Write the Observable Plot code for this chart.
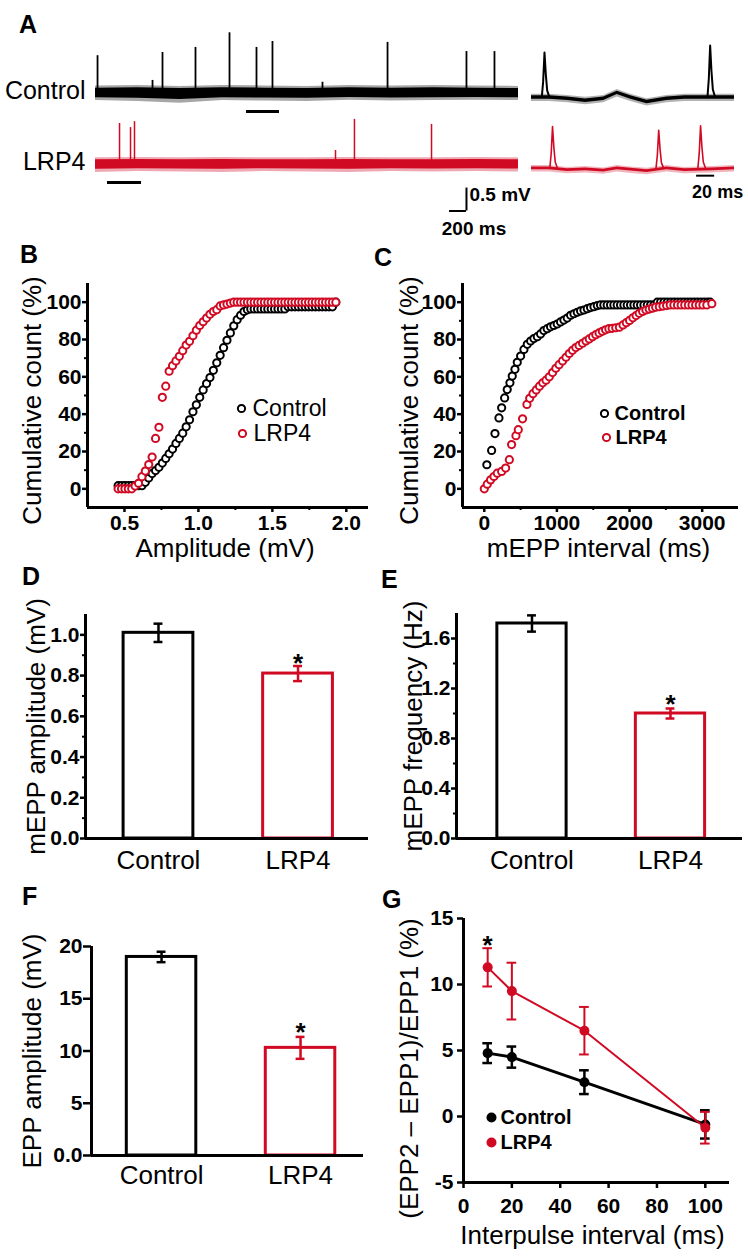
<!DOCTYPE html>
<html><head><meta charset="utf-8">
<script src="https://cdn.jsdelivr.net/npm/d3@7"></script>
<script src="https://cdn.jsdelivr.net/npm/@observablehq/plot@0.6"></script>
<style>
body{margin:0;background:#fff;}
#fig{position:relative;width:748px;height:1259px;overflow:hidden;font-family:"Liberation Sans",Arial,Helvetica,sans-serif;color:#000;}
.letter{position:absolute;font-weight:bold;font-size:25px;line-height:1;}
</style></head><body><div id="fig"></div>
<script>
// ================= DATA =================
const groups = ["Control", "LRP4"];
const traceNames = ["Control", "LRP4"];

// Panel A – long recordings (time in ms, voltage in mV)
const ctrlSpikeTimes = [24, 674, 792, 1182, 1584, 1903, 2092, 2683, 3452, 4385, 4716];
const ctrlSpikeAmps  = [0.80, 0.26, 0.87, 0.98, 1.30, 0.98, 1.11, 0.22, 1.09, 0.89, 0.89];
const lrp4SpikeTimes = [284, 414, 461, 2837, 3061, 3972];
const lrp4SpikeAmps  = [0.87, 0.78, 0.91, 0.28, 0.96, 0.85];
const noiseTimes  = [0, 500, 1000, 1500, 2000, 2500, 3000, 3500, 4000, 4500, 5000];
const ctrlNoiseHi = [0.14, 0.15, 0.13, 0.15, 0.14, 0.13, 0.15, 0.14, 0.15, 0.14, 0.13];
const ctrlNoiseLo = [-0.18, -0.20, -0.24, -0.18, -0.19, -0.20, -0.17, -0.19, -0.18, -0.17, -0.18];
const lrp4NoiseHi = [0.12, 0.13, 0.12, 0.13, 0.12, 0.12, 0.13, 0.12, 0.12, 0.13, 0.12];
const lrp4NoiseLo = [-0.20, -0.18, -0.19, -0.20, -0.18, -0.19, -0.20, -0.18, -0.19, -0.18, -0.19];
const ctrlExpandedMs = [1785, 2175];
const lrp4ExpandedMs = [142, 544];
// Panel A – expanded insets
const insetTimes    = [0, 20, 40, 60, 80, 95, 110, 128, 150, 170, 200, 225];
const ctrlInsetBase = [0, 0, -0.03, -0.07, -0.03, 0.10, 0, -0.10, -0.03, 0, 0, 0];
const lrp4InsetBase = [0, 0, -0.04, -0.02, -0.05, 0, -0.03, -0.06, 0, -0.04, -0.02, 0];
const ctrlInsetSpikeTimes = [14.4, 198];
const ctrlInsetSpikeAmps  = [0.98, 1.13];
const lrp4InsetSpikeTimes = [23.3, 141, 187.4];
const lrp4InsetSpikeAmps  = [0.91, 0.83, 0.93];
const spikeShapeMs   = [-3, -1.5, 0, 1.5, 3, 5.5];
const spikeShapeFrac = [0, 0.35, 1, 0.5, 0.15, 0];
const scaleBarMv = 0.5, scaleBarLongMs = 200, scaleBarInsetMs = 20;

// Panel B – cumulative amplitude distributions
const ampBins = [0.457,0.480,0.503,0.526,0.549,0.572,0.595,0.618,0.641,0.664,0.687,0.710,0.733,0.756,0.779,0.802,0.825,0.848,0.871,0.894,0.917,0.940,0.963,0.986,1.009,1.032,1.055,1.078,1.101,1.124,1.147,1.170,1.193,1.216,1.239,1.262,1.285,1.308,1.331,1.354,1.377,1.400,1.423,1.446,1.469,1.492,1.515,1.538,1.561,1.584,1.607,1.630,1.653,1.676,1.699,1.722,1.745,1.768,1.791,1.814,1.837,1.860,1.883,1.906,1.929];
const ampCtrlCum = [1.7,1.7,1.7,1.7,1.7,1.7,1.7,1.7, 3.5,5.8,8.2,9.8,11.5,13.8,16.3,18.8, 21.3,24.3,27,29.8,33.2,37,41.3,45, 49,53,56.4,59.6,63.5,67.5,71.5,75.6, 79.6,83.5,87.3,90.6,93,95,95.9,96.4, 96.4,96.4,96.4,96.4,96.4,96.4,96.4,96.4, 96.4,96.4,97.5,97.5,97.5,97.5,97.5,97.5, 97.5,97.5,97.5,97.5,97.5,97.5,97.5,97.5, 100];
const ampLrp4Cum = [0,0,0,0,0,1.5,3,6.5, 9.5,13,17,27,33,49,55,63, 66,68.5,71,74,77,79,82,85, 87.5,89.5,91.5,93.5,95,96,98,98.5, 99,99.5,100,100,100,100,100,100, 100,100,100,100,100,100,100,100, 100,100,100,100,100,100,100,100, 100,100,100,100,100,100,100,100, 100];

// Panel C – cumulative interval distributions
const intCtrlMs = [35,101,147,202,239,280,316,353,385,422,454,500,546,592,638,683,730,775,820,866,912,958,1004,1050,1096,1142,1188,1234,1280,1326,1372,1418,1463,1510,1556,1600,1646,1692,1738,1784,1830,1876,1922,1968,2014,2060,2106,2152,2198,2244,2290,2336,2382,2428,2474,2520,2566,2612,2658,2704,2750,2796,2842,2888,2934,2980,3026,3072,3110];
const intCtrlCum = [12.9,20.6,29.6,38,43.4,48.7,53.2,56.8,60.4,64,67.8,71.1,74.7,77.4,79.2,80.5,81.5,83,84.8,85.8,86.8,87.5,88.3,89.4,90.4,91.5,93,93.8,94.6,95.3,95.8,96.5,97.1,97.6,98.2,98.5, 98.5,98.5,98.5,98.5,98.5,98.5,98.5,98.5,98.5,98.5,98.5,98.5,98.5,98.5,98.5,98.5, 100,100,100,100,100,100,100,100,100,100,100,100,100,100,100,100,100];
const intLrp4Ms = [0,41,87,133,179,239,294,345,376,436,468,527,587,625,670,715,760,805,850,895,940,985,1030,1078,1125,1170,1215,1260,1305,1353,1400,1445,1491,1535,1580,1625,1670,1715,1760,1810,1860,1910,1955,2000,2046,2090,2133,2180,2225,2270,2315,2360,2410,2460,2510,2560,2610,2660,2710,2760,2810,2860,2910,2960,3010,3064,3133];
const intLrp4Cum = [0,2.5,4.8,6.6,8.4,9.3,11.1,15.6,23.7,28.5,31.7,37.5,45.2,48.5,51,53,55,56.8,58.2,60,62.3,64.6,66.5,68.5,70.5,72.5,74.2,75.7,76.8,78,79.2,80.3,81.5,82.6,83.5,84.4,85.2,85.8,86,86.3,86.6,87.8,89,90.2,91.6,92.8,94,95,95.8,96.3,96.8,97.3,97.6,97.9,98.2,98.5, 98.5,98.5,98.5,98.5,98.5,98.5,98.5,98.5,98.5,98.5, 99.2];

// Panels D, E, F – mean ± SEM
const mEppAmpMean  = [1.01, 0.81];
const mEppAmpErr   = [0.045, 0.037];
const mEppFreqMean = [1.72, 1.00];
const mEppFreqErr  = [0.065, 0.04];
const eppAmpMean   = [19.0, 10.3];
const eppAmpErr    = [0.5, 1.05];
const significant  = [false, true];

// Panel G – paired-pulse facilitation
const intervalsMs = [10, 20, 50, 100];
const ppfCtrl     = [4.8, 4.5, 2.6, -0.6];
const ppfCtrlErr  = [0.75, 0.8, 0.9, 1.07];
const ppfLrp4     = [11.3, 9.5, 6.5, -0.85];
const ppfLrp4Err  = [1.45, 2.15, 1.8, 1.2];
const ppfSignificant = [true, false, false, false];

// ================= DRAWING =================
const fig = document.getElementById("fig");
const FONT = '"Liberation Sans", Arial, Helvetica, sans-serif';
const RED = "#d10a24";
const TICK_FONT = 21;
const STYLE = `font-family: ${FONT}; background: transparent; overflow: visible; color: black; max-width: none;`;

function place(svg, left, top) {
  svg.style.position = "absolute";
  svg.style.left = left + "px";
  svg.style.top = top + "px";
  fig.appendChild(svg);
}
function letter(ch, left, top) {
  const d = document.createElement("div");
  d.className = "letter"; d.textContent = ch;
  d.style.left = left + "px"; d.style.top = top + "px";
  fig.appendChild(d);
}
function yAxes(major, minor, fmt, size, pad) {
  const m = [Plot.axisY({ticks: major, tickFormat: fmt, tickSize: size, tickPadding: pad, fontSize: TICK_FONT, fontWeight: "bold", strokeWidth: 2.5, label: null})];
  if (minor) m.push(Plot.axisY({ticks: minor, tickFormat: () => "", tickSize: 3, strokeWidth: 2, label: null}));
  return m;
}
function xAxes(major, minor, fmt, size, pad) {
  const m = [Plot.axisX({ticks: major, tickFormat: fmt, tickSize: size, tickPadding: pad, fontSize: TICK_FONT, fontWeight: "bold", strokeWidth: 2.5, label: null})];
  if (minor) m.push(Plot.axisX({ticks: minor, tickFormat: () => "", tickSize: 3, strokeWidth: 2, label: null}));
  return m;
}
function yTitle(text, dx, dy = 0) {
  return Plot.text([text], {frameAnchor: "left", rotate: -90, dx, dy, fontSize: 26, textAnchor: "middle", lineAnchor: "middle"});
}
function xTitle(text, dx, dy) {
  return Plot.text([text], {frameAnchor: "bottom", dx, dy, fontSize: 26, textAnchor: "middle", lineAnchor: "middle"});
}

// ---------- Panel A ----------
letter("A", 19, 12);
const ctrlNoiseLong = noiseTimes.map((t, i) => ({trace: "Control", t, hi: ctrlNoiseHi[i], lo: ctrlNoiseLo[i]}));
const lrp4NoiseLong = noiseTimes.map((t, i) => ({trace: "LRP4", t, hi: lrp4NoiseHi[i], lo: lrp4NoiseLo[i]}));
const ctrlSpikesLong = ctrlSpikeTimes.map((t, i) => ({trace: "Control", t, amp: ctrlSpikeAmps[i]}));
const lrp4SpikesLong = lrp4SpikeTimes.map((t, i) => ({trace: "LRP4", t, amp: lrp4SpikeAmps[i]}));
const expandedBars = [
  {trace: "Control", t1: ctrlExpandedMs[0], t2: ctrlExpandedMs[1]},
  {trace: "LRP4", t1: lrp4ExpandedMs[0], t2: lrp4ExpandedMs[1]}
];
const vBar = [{trace: "LRP4", t: 4385, v: -1.04}];

place(Plot.plot({
  width: 530, height: 245, marginLeft: 95, marginRight: 12, marginTop: 30, marginBottom: 73,
  x: {domain: [0, 5000], axis: null},
  y: {domain: [-0.2, 1.35], axis: null},
  fy: {domain: traceNames, padding: 0, axis: null},
  style: STYLE,
  marks: [
    Plot.areaY(ctrlNoiseLong, {x: "t", y1: "lo", y2: "hi", fy: "trace", fill: "black", fillOpacity: 0.35}),
    Plot.areaY(ctrlNoiseLong, {x: "t", y1: d => d.lo * 0.65, y2: d => d.hi * 0.65, fy: "trace", fill: "black"}),
    Plot.areaY(lrp4NoiseLong, {x: "t", y1: "lo", y2: "hi", fy: "trace", fill: RED, fillOpacity: 0.35}),
    Plot.areaY(lrp4NoiseLong, {x: "t", y1: d => d.lo * 0.65, y2: d => d.hi * 0.65, fy: "trace", fill: RED}),
    Plot.ruleX(ctrlSpikesLong, {x: "t", y1: 0, y2: "amp", fy: "trace", stroke: "black", strokeWidth: 1.8}),
    Plot.ruleX(lrp4SpikesLong, {x: "t", y1: 0, y2: "amp", fy: "trace", stroke: RED, strokeWidth: 1.5}),
    Plot.ruleY(expandedBars, {x1: "t1", x2: "t2", y: -0.42, fy: "trace", stroke: "black", strokeWidth: 3}),
    Plot.ruleX(vBar, {x: "t", y1: "v", y2: d => d.v + scaleBarMv, fy: "trace", strokeWidth: 2}),
    Plot.ruleY(vBar, {x1: d => d.t - scaleBarLongMs, x2: "t", y: "v", fy: "trace", strokeWidth: 2}),
    Plot.text(vBar, {x: "t", y: d => d.v + 0.34, fy: "trace", text: () => `${scaleBarMv} mV`, textAnchor: "start", dx: 3, fontSize: 19, fontWeight: "bold"}),
    Plot.text(vBar, {x: d => d.t - scaleBarLongMs / 2, y: "v", fy: "trace", text: () => `${scaleBarLongMs} ms`, dx: 16, dy: 18, fontSize: 19, fontWeight: "bold"}),
    Plot.text(traceNames, {fy: d => d, y: 0, text: d => d, frameAnchor: "left", textAnchor: "end", dx: -10, dy: -1, fontSize: 25})
  ]
}), 0, 0);

function spikeWave(trace, times, amps) {
  const pts = [];
  times.forEach((t, i) => spikeShapeMs.forEach((dt, j) =>
    pts.push({trace, id: trace + i, t: t + dt, v: amps[i] * spikeShapeFrac[j]})));
  return pts;
}
const ctrlInsetNoise = insetTimes.map((t, i) => ({trace: "Control", t, v: ctrlInsetBase[i]}));
const lrp4InsetNoise = insetTimes.map((t, i) => ({trace: "LRP4", t, v: lrp4InsetBase[i]}));
const tBar = [{trace: "LRP4", t: 183, v: -0.16}];

place(Plot.plot({
  width: 228, height: 240, marginLeft: 11, marginRight: 14, marginTop: 30, marginBottom: 68,
  x: {domain: [0, 225], axis: null},
  y: {domain: [-0.2, 1.35], axis: null},
  fy: {domain: traceNames, padding: 0, axis: null},
  style: STYLE,
  marks: [
    Plot.areaY(ctrlInsetNoise, {x: "t", y1: d => d.v - 0.09, y2: d => d.v + 0.07, fy: "trace", fill: "black", fillOpacity: 0.3}),
    Plot.areaY(ctrlInsetNoise, {x: "t", y1: d => d.v - 0.04, y2: d => d.v + 0.035, fy: "trace", fill: "black"}),
    Plot.areaY(lrp4InsetNoise, {x: "t", y1: d => d.v - 0.08, y2: d => d.v + 0.06, fy: "trace", fill: RED, fillOpacity: 0.3}),
    Plot.areaY(lrp4InsetNoise, {x: "t", y1: d => d.v - 0.03, y2: d => d.v + 0.03, fy: "trace", fill: RED}),
    Plot.line(spikeWave("Control", ctrlInsetSpikeTimes, ctrlInsetSpikeAmps), {x: "t", y: "v", z: "id", fy: "trace", stroke: "black", strokeWidth: 2}),
    Plot.line(spikeWave("LRP4", lrp4InsetSpikeTimes, lrp4InsetSpikeAmps), {x: "t", y: "v", z: "id", fy: "trace", stroke: RED, strokeWidth: 1.6}),
    Plot.ruleY(tBar, {x1: "t", x2: d => d.t + scaleBarInsetMs, y: "v", fy: "trace", strokeWidth: 2}),
    Plot.text(tBar, {x: d => d.t + scaleBarInsetMs / 2, y: "v", fy: "trace", text: () => `${scaleBarInsetMs} ms`, dx: 12, dy: 17, fontSize: 18, fontWeight: "bold"})
  ]
}), 520, 5);

// ---------- Panel B ----------
letter("B", 20, 242);
const ampCtrl = ampBins.map((x, i) => ({x, y: ampCtrlCum[i]}));
const ampLrp4 = ampBins.map((x, i) => ({x, y: ampLrp4Cum[i]}));
place(Plot.plot({
  width: 374, height: 330, marginLeft: 87, marginRight: 6, marginTop: 48, marginBottom: 58,
  x: {domain: [0.25, 2.15]}, y: {domain: [-10, 110]},
  style: STYLE,
  marks: [
    ...xAxes([0.5, 1, 1.5, 2], [0.75, 1.25, 1.75], d3.format(".1f"), 5, 3),
    ...yAxes([0, 20, 40, 60, 80, 100], [10, 30, 50, 70, 90], d => String(d), 5, 1),
    Plot.ruleX([0.25], {strokeWidth: 3}),
    Plot.ruleY([-10], {strokeWidth: 3}),
    Plot.dot(ampCtrl, {x: "x", y: "y", r: 3.6, stroke: "black", strokeWidth: 2, fill: "white"}),
    Plot.dot(ampLrp4, {x: "x", y: "y", r: 3.6, stroke: RED, strokeWidth: 2, fill: "white"}),
    Plot.dot([0], {frameAnchor: "top-left", dx: 154, dy: 125, r: 3.6, stroke: "black", strokeWidth: 2, fill: "white"}),
    Plot.dot([0], {frameAnchor: "top-left", dx: 155, dy: 150, r: 3.6, stroke: RED, strokeWidth: 2, fill: "white"}),
    Plot.text([groups[0]], {frameAnchor: "top-left", dx: 165, dy: 125, textAnchor: "start", lineAnchor: "middle", fontSize: 23}),
    Plot.text([groups[1]], {frameAnchor: "top-left", dx: 166, dy: 150, textAnchor: "start", lineAnchor: "middle", fontSize: 23}),
    yTitle("Cumulative count (%)", -55, 5),
    xTitle("Amplitude (mV)", -3, 41)
  ]
}), 0, 235);

// ---------- Panel C ----------
letter("C", 374, 245);
const intCtrl = intCtrlMs.map((x, i) => ({x, y: intCtrlCum[i]}));
const intLrp4 = intLrp4Ms.map((x, i) => ({x, y: intLrp4Cum[i]}));
place(Plot.plot({
  width: 374, height: 330, marginLeft: 88, marginRight: 10, marginTop: 48, marginBottom: 58,
  x: {domain: [-300, 3500]}, y: {domain: [-10, 110]},
  style: STYLE,
  marks: [
    ...xAxes([0, 1000, 2000, 3000], [500, 1500, 2500], d => String(d), 5, 3),
    ...yAxes([0, 20, 40, 60, 80, 100], [10, 30, 50, 70, 90], d => String(d), 5, 1),
    Plot.ruleX([-300], {strokeWidth: 3}),
    Plot.ruleY([-10], {strokeWidth: 3}),
    Plot.dot(intCtrl, {x: "x", y: "y", r: 3.6, stroke: "black", strokeWidth: 2, fill: "white"}),
    Plot.dot(intLrp4, {x: "x", y: "y", r: 3.6, stroke: RED, strokeWidth: 2, fill: "white"}),
    Plot.dot([0], {frameAnchor: "top-left", dx: 142, dy: 130, r: 3.6, stroke: "black", strokeWidth: 2, fill: "white"}),
    Plot.dot([0], {frameAnchor: "top-left", dx: 144, dy: 154, r: 3.6, stroke: RED, strokeWidth: 2, fill: "white"}),
    Plot.text([groups[0]], {frameAnchor: "top-left", dx: 152, dy: 130, textAnchor: "start", lineAnchor: "middle", fontSize: 20, fontWeight: "bold"}),
    Plot.text([groups[1]], {frameAnchor: "top-left", dx: 153, dy: 154, textAnchor: "start", lineAnchor: "middle", fontSize: 20, fontWeight: "bold"}),
    yTitle("Cumulative count (%)", -53, 5),
    xTitle("mEPP interval (ms)", -2, 41)
  ]
}), 374, 235);

// ---------- Bar panels D, E, F ----------
function barPanel(o) {
  const data = groups.map((g, i) => ({group: g, pos: i + 1, mean: o.means[i], err: o.errs[i], sig: significant[i], color: i === 0 ? "black" : RED}));
  const half = 0.25;
  const xmin = o.xDomain[0];
  return Plot.plot({
    width: o.width, height: o.height, marginLeft: o.mL, marginRight: o.mR, marginTop: o.mT, marginBottom: o.mB,
    x: {domain: o.xDomain}, y: {domain: o.yDomain}, color: {type: "identity"},
    style: STYLE,
    marks: [
      Plot.axisX({ticks: [1, 2], tickFormat: d => groups[d - 1], tickSize: 0, tickPadding: o.xPad, fontSize: 26, label: null}),
      ...yAxes(o.major, o.minor, o.fmt, o.tickSize, o.tickPad),
      Plot.rectY(data, {x1: d => d.pos - half, x2: d => d.pos + half, y1: 0, y2: "mean", fill: "white", stroke: "color", strokeWidth: 3}),
      Plot.ruleX(data, {x: "pos", y1: d => d.mean - d.err, y2: d => d.mean + d.err, stroke: "color", strokeWidth: 2.5}),
      Plot.ruleY(data, {x1: d => d.pos - o.cap, x2: d => d.pos + o.cap, y: d => d.mean + d.err, stroke: "color", strokeWidth: 2.5}),
      Plot.ruleY(data, {x1: d => d.pos - o.cap, x2: d => d.pos + o.cap, y: d => d.mean - d.err, stroke: "color", strokeWidth: 2.5}),
      Plot.text(data.filter(d => d.sig), {x: "pos", y: d => d.mean + d.err, text: () => "*", dy: o.astDy, fontSize: 26, fontWeight: "bold"}),
      Plot.ruleX([xmin], {strokeWidth: 3}),
      Plot.ruleY([0], {strokeWidth: 3}),
      yTitle(o.yLabel, o.yLabelDx)
    ]
  });
}

letter("D", 22, 564);
place(barPanel({
  width: 374, height: 320, mL: 85, mR: 6, mT: 54, mB: 42,
  xDomain: [0.477, 2.505], yDomain: [0, 1.1], means: mEppAmpMean, errs: mEppAmpErr,
  major: [0, 0.2, 0.4, 0.6, 0.8, 1.0], minor: [0.1, 0.3, 0.5, 0.7, 0.9], fmt: d3.format(".1f"),
  tickSize: 5, tickPad: 1, xPad: 12, cap: 0.032, astDy: -2, yLabel: "mEPP amplitude (mV)", yLabelDx: -49
}), 0, 560);

letter("E", 381, 567);
place(barPanel({
  width: 374, height: 320, mL: 82, mR: 6, mT: 53, mB: 42,
  xDomain: [0.455, 2.52], yDomain: [0, 1.8], means: mEppFreqMean, errs: mEppFreqErr,
  major: [0, 0.4, 0.8, 1.2, 1.6], minor: [0.2, 0.6, 1.0, 1.4], fmt: d3.format(".1f"),
  tickSize: 5, tickPad: 1, xPad: 12, cap: 0.032, astDy: -4, yLabel: "mEPP frequency (Hz)", yLabelDx: -43
}), 374, 560);

letter("F", 22, 884);
place(barPanel({
  width: 374, height: 389, mL: 91, mR: 11, mT: 76, mB: 104,
  xDomain: [0.496, 2.453], yDomain: [0, 20], means: eppAmpMean, errs: eppAmpErr,
  major: [0, 5, 10, 15, 20], minor: null, fmt: d => d === 0 ? "0.0" : String(d),
  tickSize: 8, tickPad: 1, xPad: 10, cap: 0.032, astDy: -4, yLabel: "EPP amplitude (mV)", yLabelDx: -59
}), 0, 870);

// ---------- Panel G ----------
letter("G", 382, 887);
const gCtrl = intervalsMs.map((x, i) => ({x, y: ppfCtrl[i], err: ppfCtrlErr[i]}));
const gLrp4 = intervalsMs.map((x, i) => ({x, y: ppfLrp4[i], err: ppfLrp4Err[i], sig: ppfSignificant[i]}));
const gCap = 2;
place(Plot.plot({
  width: 374, height: 389, marginLeft: 89, marginRight: 19, marginTop: 48, marginBottom: 77,
  x: {domain: [0, 110]}, y: {domain: [-5, 15]},
  style: STYLE,
  marks: [
    ...xAxes([0, 20, 40, 60, 80, 100], null, d => String(d), 6, 10),
    ...yAxes([-5, 0, 5, 10, 15], null, d => String(d), 6, 4),
    Plot.ruleX([0], {strokeWidth: 3}),
    Plot.ruleY([-5], {strokeWidth: 3}),
    Plot.line(gCtrl, {x: "x", y: "y", stroke: "black", strokeWidth: 3}),
    Plot.ruleX(gCtrl, {x: "x", y1: d => d.y - d.err, y2: d => d.y + d.err, stroke: "black", strokeWidth: 2.5}),
    Plot.ruleY(gCtrl, {x1: d => d.x - gCap, x2: d => d.x + gCap, y: d => d.y + d.err, stroke: "black", strokeWidth: 2.5}),
    Plot.ruleY(gCtrl, {x1: d => d.x - gCap, x2: d => d.x + gCap, y: d => d.y - d.err, stroke: "black", strokeWidth: 2.5}),
    Plot.dot(gCtrl, {x: "x", y: "y", r: 5, fill: "black"}),
    Plot.line(gLrp4, {x: "x", y: "y", stroke: RED, strokeWidth: 2}),
    Plot.ruleX(gLrp4, {x: "x", y1: d => d.y - d.err, y2: d => d.y + d.err, stroke: RED, strokeWidth: 2}),
    Plot.ruleY(gLrp4, {x1: d => d.x - gCap, x2: d => d.x + gCap, y: d => d.y + d.err, stroke: RED, strokeWidth: 2}),
    Plot.ruleY(gLrp4, {x1: d => d.x - gCap, x2: d => d.x + gCap, y: d => d.y - d.err, stroke: RED, strokeWidth: 2}),
    Plot.dot(gLrp4, {x: "x", y: "y", r: 5, fill: RED}),
    Plot.text(gLrp4.filter(d => d.sig), {x: "x", y: d => d.y + d.err, text: () => "*", dy: -3, fontSize: 26, fontWeight: "bold"}),
    Plot.dot([0], {frameAnchor: "top-left", dx: 28, dy: 199, r: 5, fill: "black"}),
    Plot.dot([0], {frameAnchor: "top-left", dx: 28, dy: 224, r: 5, fill: RED}),
    Plot.text([groups[0]], {frameAnchor: "top-left", dx: 37, dy: 199, textAnchor: "start", lineAnchor: "middle", fontSize: 20, fontWeight: "bold"}),
    Plot.text([groups[1]], {frameAnchor: "top-left", dx: 37, dy: 224, textAnchor: "start", lineAnchor: "middle", fontSize: 20, fontWeight: "bold"}),
    yTitle("(EPP2 – EPP1)/EPP1 (%)", -54, 18),
    xTitle("Interpulse interval (ms)", -4, 53)
  ]
}), 374, 870);
</script></body></html>
